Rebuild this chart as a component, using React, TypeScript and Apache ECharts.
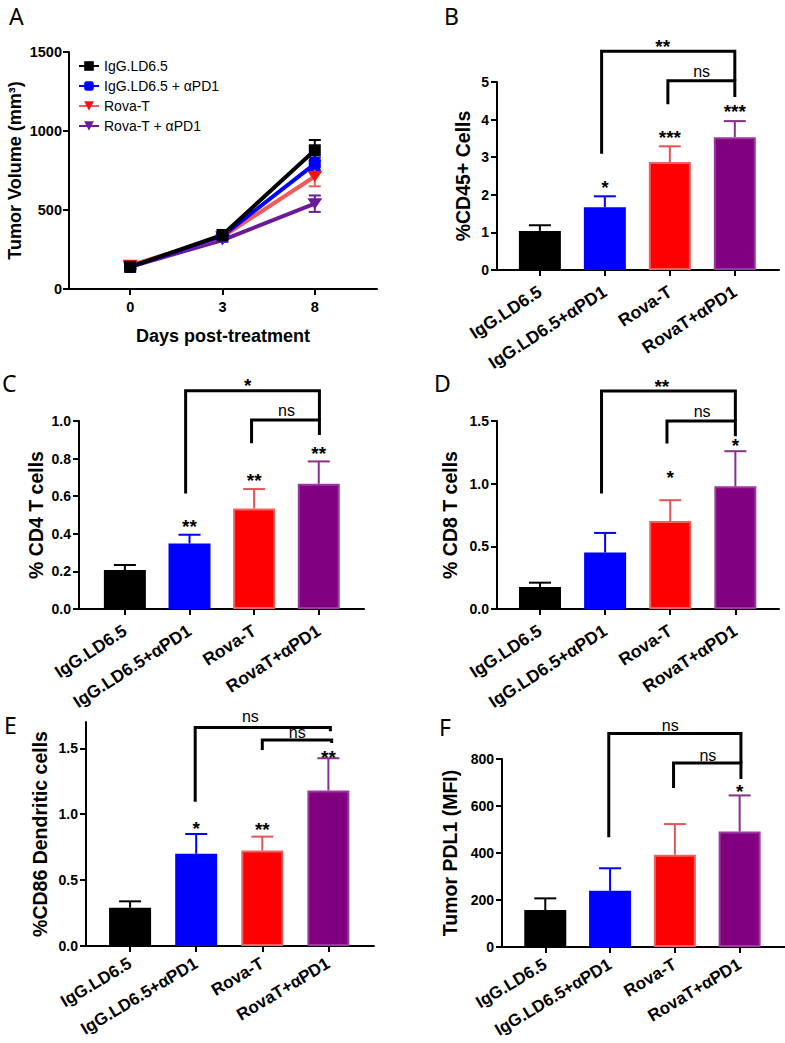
import React, { useEffect, useRef } from "react";
import * as echarts from "echarts";

const FONT = '"Liberation Sans", Arial, Helvetica, sans-serif';

// ---------- shared categories ----------
const CATEGORIES = ["IgG.LD6.5", "IgG.LD6.5+αPD1", "Rova-T", "RovaT+αPD1"];
const BAR_COLORS = ["#000000", "#0000ff", "#ff0000", "#800080"];
const BAR_BORDERS = ["#000000", "#0000ff", "#f26060", "#9a3aa0"];
const ERR_COLORS = ["#000000", "#0000ff", "#e05555", "#86308c"];

// ---------- panel A : tumor volume ----------
const DAYS = ["0", "3", "8"];
const A_NAMES = ["IgG.LD6.5", "IgG.LD6.5 + αPD1", "Rova-T", "Rova-T + αPD1"];
const A_IGG = [140, 342, 878];
const A_IGG_PD1 = [140, 336, 792];
const A_ROVA = [150, 330, 712];
const A_ROVA_PD1 = [140, 310, 540];
const A_IGG_ERR = [10, 15, 65];
const A_IGG_PD1_ERR = [10, 15, 40];
const A_ROVA_ERR = [10, 15, 62];
const A_ROVA_PD1_ERR = [10, 12, 52];
const A_LINE_COLORS = ["#000000", "#0000ff", "#f25a5a", "#6a1a9a"];
const A_MARK_COLORS = ["#000000", "#0000ff", "#ff1010", "#6a1a9a"];

// ---------- panel B : %CD45+ cells ----------
const B_MEAN = [1.04, 1.67, 2.87, 3.53];
const B_ERR = [0.15, 0.29, 0.42, 0.43];
const B_BRACKETS = [
  [0.95, 3.0, 5.82, 3.09, 5.03],
  [1.97, 3.0, 5.03, 4.41, 4.6],
];
const B_STARS: [number, number, string][] = [
  [1, 2.31, "*"],
  [2, 3.64, "***"],
  [3, 4.31, "***"],
  [1.89, 6.06, "**"],
  [2.49, 5.24, "ns"],
];

// ---------- panel C : % CD4 T cells ----------
const C_MEAN = [0.207, 0.349, 0.535, 0.666];
const C_ERR = [0.027, 0.046, 0.103, 0.119];
const C_BRACKETS = [
  [0.94, 3.01, 1.161, 0.615, 1.005],
  [1.96, 3.01, 1.005, 0.881, 0.925],
];
const C_STARS: [number, number, string][] = [
  [1, 0.459, "**"],
  [2, 0.704, "**"],
  [3, 0.848, "**"],
  [1.9, 1.209, "*"],
  [2.5, 1.049, "ns"],
];

// ---------- panel D : % CD8 T cells ----------
const D_MEAN = [0.176, 0.45, 0.702, 0.979];
const D_ERR = [0.034, 0.157, 0.166, 0.28];
const D_BRACKETS = [
  [0.945, 3.0, 1.74, 0.921, 1.5],
  [1.95, 3.0, 1.5, 1.32, 1.378],
];
const D_STARS: [number, number, string][] = [
  [2, 1.085, "*"],
  [3, 1.333, "*"],
  [1.87, 1.81, "**"],
  [2.49, 1.57, "ns"],
];

// ---------- panel E : %CD86 dendritic cells ----------
const E_MEAN = [0.29, 0.7, 0.725, 1.18];
const E_ERR = [0.049, 0.15, 0.105, 0.245];
const E_BRACKETS = [
  [0.985, 3.03, 1.658, 1.094, 1.63],
  [2.0, 3.05, 1.564, 1.487, 1.54],
];
const E_STARS: [number, number, string][] = [
  [1, 0.92, "*"],
  [2, 0.915, "**"],
  [3, 1.462, "**"],
  [1.82, 1.735, "ns"],
  [2.53, 1.612, "ns"],
];

// ---------- panel F : tumor PDL1 ----------
const F_MEAN = [157, 239, 393, 491];
const F_ERR = [50, 96, 130, 154];
const F_BRACKETS = [
  [0.98, 3.02, 908, 467, 783],
  [1.98, 3.02, 783, 677, 715],
];
const F_STARS: [number, number, string][] = [
  [3, 677, "*"],
  [1.93, 940, "ns"],
  [2.51, 811, "ns"],
];

// ---------- layout (pixels) ----------
type Layout = { left: number; right: number; top: number; bottom: number; xMin: number; xMax: number };
const LAYOUTS: Layout[] = [
  { left: 69, right: 377, top: 52, bottom: 289, xMin: -0.663, xMax: 2.674 },
  { left: 497, right: 779, top: 82, bottom: 270, xMin: -0.66, xMax: 3.68 },
  { left: 79, right: 364, top: 421, bottom: 609, xMin: -0.71, xMax: 3.7 },
  { left: 497, right: 779, top: 421, bottom: 609, xMin: -0.66, xMax: 3.67 },
  { left: 86, right: 374, top: 722, bottom: 946, xMin: -0.667, xMax: 3.69 },
  { left: 502, right: 785, top: 759, bottom: 947, xMin: -0.668, xMax: 3.7 },
];

const axisLine = { show: true, onZero: false, lineStyle: { color: "#000", width: 2 } };
const tickStyle = { length: 6, lineStyle: { color: "#000", width: 2 } };

function errRender(colors: string[], cap: number, both: boolean) {
  return (_params: any, api: any) => {
    const x = api.value(0);
    const y = api.value(1);
    const e = api.value(2);
    const color = colors[api.value(3)];
    const top = api.coord([x, y + e]);
    const bot = api.coord([x, both ? y - e : y]);
    const st = { stroke: color, lineWidth: 2 };
    const children: any[] = [
      { type: "line", shape: { x1: top[0], y1: top[1], x2: bot[0], y2: bot[1] }, style: st },
      { type: "line", shape: { x1: top[0] - cap, y1: top[1], x2: top[0] + cap, y2: top[1] }, style: st },
    ];
    if (both) {
      children.push({ type: "line", shape: { x1: bot[0] - cap, y1: bot[1], x2: bot[0] + cap, y2: bot[1] }, style: st });
    }
    return { type: "group", children };
  };
}

function bracketRender(_params: any, api: any) {
  const xl = api.value(0);
  const xr = api.value(1);
  const yt = api.value(2);
  const yl = api.value(3);
  const yr = api.value(4);
  const pts = [api.coord([xl, yl]), api.coord([xl, yt]), api.coord([xr, yt]), api.coord([xr, yr])];
  return {
    type: "polyline",
    shape: { points: pts },
    style: { stroke: "#000", lineWidth: 3, fill: null, lineJoin: "miter" },
  };
}

function starRender(labels: string[]) {
  return (params: any, api: any) => {
    const p = api.coord([api.value(0), api.value(1)]);
    const t = labels[params.dataIndex];
    const ns = t === "ns";
    const fs = ns ? 16 : 19;
    return {
      type: "text",
      x: p[0],
      y: p[1] + (ns ? -1 : 4),
      style: {
        text: t,
        fill: "#000",
        font: `${ns ? "normal" : "bold"} ${fs}px ${FONT}`,
        align: "center",
        verticalAlign: "middle",
        textAlign: "center",
        textVerticalAlign: "middle",
      },
    };
  };
}

type BarPanel = {
  mean: number[];
  err: number[];
  brackets: number[][];
  stars: [number, number, string][];
  max: number;
  interval?: number;
  ticks?: number[];
  digits: number;
  name: string;
  nameGap: number;
  rot: number;
  labelSize: number;
  labelMargin: number;
};

const BAR_PANELS: BarPanel[] = [
  { mean: B_MEAN, err: B_ERR, brackets: B_BRACKETS, stars: B_STARS, max: 5, interval: 1, digits: 0, name: "%CD45+ Cells", nameGap: 24, rot: 33, labelSize: 17.5, labelMargin: 20 },
  { mean: C_MEAN, err: C_ERR, brackets: C_BRACKETS, stars: C_STARS, max: 1, interval: 0.2, digits: 1, name: "% CD4 T cells", nameGap: 33, rot: 33, labelSize: 17.5, labelMargin: 20 },
  { mean: D_MEAN, err: D_ERR, brackets: D_BRACKETS, stars: D_STARS, max: 1.5, interval: 0.5, digits: 1, name: "% CD8 T cells", nameGap: 37, rot: 33, labelSize: 17.5, labelMargin: 20 },
  { mean: E_MEAN, err: E_ERR, brackets: E_BRACKETS, stars: E_STARS, max: 1.7, ticks: [0, 0.5, 1, 1.5], digits: 1, name: "%CD86 Dendritic cells", nameGap: 36, rot: 31, labelSize: 17, labelMargin: 16 },
  { mean: F_MEAN, err: F_ERR, brackets: F_BRACKETS, stars: F_STARS, max: 800, interval: 200, digits: 0, name: "Tumor PDL1 (MFI)", nameGap: 42, rot: 31, labelSize: 17, labelMargin: 16 },
];

function buildOption() {
  const grid: any[] = LAYOUTS.map((l) => ({
    left: l.left,
    top: l.top,
    width: l.right - l.left,
    height: l.bottom - l.top,
    containLabel: false,
    outerBoundsMode: "none",
  }));
  const xAxis: any[] = [];
  const yAxis: any[] = [];
  const series: any[] = [];

  // panel A axes
  xAxis.push({
    type: "value",
    gridIndex: 0,
    min: LAYOUTS[0].xMin,
    max: LAYOUTS[0].xMax,
    axisLine,
    axisTick: { show: true, ...tickStyle, customValues: [0, 1, 2] },
    splitLine: { show: false },
    axisLabel: {
      customValues: [0, 1, 2],
      formatter: (v: number) => DAYS[Math.round(v)],
      color: "#000",
      fontSize: 14.5,
      fontWeight: "bold",
      margin: 10,
    },
    name: "Days post-treatment",
    nameLocation: "middle",
    nameGap: 38,
    nameMoveOverlap: false,
    nameTextStyle: { color: "#000", fontSize: 18, fontWeight: "bold" },
  });
  yAxis.push({
    type: "value",
    gridIndex: 0,
    min: 0,
    max: 1500,
    interval: 500,
    axisLine,
    axisTick: { show: true, ...tickStyle },
    splitLine: { show: false },
    axisLabel: { color: "#000", fontSize: 14.5, fontWeight: "bold", margin: 7, formatter: (v: number) => String(v) },
    name: "Tumor Volume (mm³)",
    nameLocation: "middle",
    nameRotate: 90,
    nameGap: 45,
    nameMoveOverlap: false,
    nameTextStyle: { color: "#000", fontSize: 18, fontWeight: "bold" },
  });

  const aVals = [A_IGG, A_IGG_PD1, A_ROVA, A_ROVA_PD1];
  const aErrs = [A_IGG_ERR, A_IGG_PD1_ERR, A_ROVA_ERR, A_ROVA_PD1_ERR];
  const aSymbols = ["rect", "roundRect", "triangle", "triangle"];
  const errData: number[][] = [];
  aVals.forEach((vals, s) => vals.forEach((v, i) => errData.push([i, v, aErrs[s][i], s])));
  series.push({
    type: "custom",
    xAxisIndex: 0,
    yAxisIndex: 0,
    renderItem: errRender(A_LINE_COLORS, 6, true),
    data: errData,
    z: 1,
  });
  [3, 2, 1, 0].forEach((s) => {
    series.push({
      type: "line",
      name: A_NAMES[s],
      xAxisIndex: 0,
      yAxisIndex: 0,
      data: aVals[s].map((v, i) => [i, v]),
      symbol: aSymbols[s],
      symbolSize: s < 2 ? 12 : [15, 11],
      symbolRotate: s < 2 ? 0 : 180,
      lineStyle: { color: A_LINE_COLORS[s], width: 4 },
      itemStyle: { color: A_MARK_COLORS[s] },
      z: 3,
    });
  });

  // bar panels B..F
  BAR_PANELS.forEach((p, k) => {
    const gi = k + 1;
    const l = LAYOUTS[gi];
    xAxis.push({
      type: "value",
      gridIndex: gi,
      min: l.xMin,
      max: l.xMax,
      axisLine,
      axisTick: { show: true, ...tickStyle, customValues: [0, 1, 2, 3] },
      splitLine: { show: false },
      axisLabel: {
        customValues: [0, 1, 2, 3],
        formatter: (v: number) => CATEGORIES[Math.round(v)],
        rotate: p.rot,
        color: "#000",
        fontSize: p.labelSize,
        fontWeight: "bold",
        margin: p.labelMargin,
        hideOverlap: false,
      },
    });
    const yCfg: any = {
      type: "value",
      gridIndex: gi,
      min: 0,
      max: p.max,
      axisLine,
      axisTick: { show: true, ...tickStyle },
      splitLine: { show: false },
      axisLabel: {
        color: "#000",
        fontSize: 14,
        fontWeight: "bold",
        margin: 8,
        formatter: (v: number) => v.toFixed(p.digits),
      },
      name: p.name,
      nameLocation: "middle",
      nameRotate: 90,
      nameGap: p.nameGap,
      nameMoveOverlap: false,
      nameTextStyle: { color: "#000", fontSize: 19.5, fontWeight: "bold" },
    };
    if (p.interval) yCfg.interval = p.interval;
    if (p.ticks) {
      yCfg.axisTick.customValues = p.ticks;
      yCfg.axisLabel.customValues = p.ticks;
    }
    yAxis.push(yCfg);

    series.push({
      type: "bar",
      xAxisIndex: gi,
      yAxisIndex: gi,
      barWidth: 42,
      data: p.mean.map((m, i) => ({
        value: [i, m],
        itemStyle: { color: BAR_COLORS[i], borderColor: BAR_BORDERS[i], borderWidth: 2 },
      })),
      z: 2,
    });
    series.push({
      type: "custom",
      xAxisIndex: gi,
      yAxisIndex: gi,
      renderItem: errRender(ERR_COLORS, 11, false),
      data: p.mean.map((m, i) => [i, m, p.err[i], i]),
      z: 3,
    });
    series.push({
      type: "custom",
      xAxisIndex: gi,
      yAxisIndex: gi,
      renderItem: bracketRender,
      data: p.brackets,
      clip: false,
      z: 4,
    });
    series.push({
      type: "custom",
      xAxisIndex: gi,
      yAxisIndex: gi,
      renderItem: starRender(p.stars.map((s) => s[2])),
      data: p.stars.map((s) => [s[0], s[1]]),
      clip: false,
      z: 5,
    });
  });

  const letters = [
    ["A", 9, 4],
    ["B", 444, 4],
    ["C", 2, 371],
    ["D", 434, 371],
    ["E", 4, 713],
    ["F", 439, 715],
  ];

  return {
    animation: false,
    backgroundColor: "#ffffff",
    textStyle: { fontFamily: FONT },
    grid,
    xAxis,
    yAxis,
    series,
    legend: {
      data: A_NAMES,
      orient: "vertical",
      left: 73,
      top: 54,
      itemWidth: 20,
      itemHeight: 12,
      itemGap: 6,
      textStyle: { color: "#000", fontSize: 14, fontFamily: FONT },
      selectedMode: false,
    },
    graphic: letters.map(([t, x, y]) => ({
      type: "text",
      left: x as number,
      top: y as number,
      style: { text: t as string, fill: "#000", font: `normal 23px "Noto Sans", ${FONT}` },
    })),
  };
}

export default function App() {
  const ref = useRef<HTMLDivElement>(null);
  useEffect(() => {
    if (!ref.current) return;
    const chart = echarts.init(ref.current, undefined, { renderer: "svg" });
    chart.setOption(buildOption() as any);
    return () => chart.dispose();
  }, []);
  return (
    <div
      ref={ref}
      style={{ position: "absolute", left: 0, top: 0, width: 785, height: 1043, background: "#fff" }}
    />
  );
}
